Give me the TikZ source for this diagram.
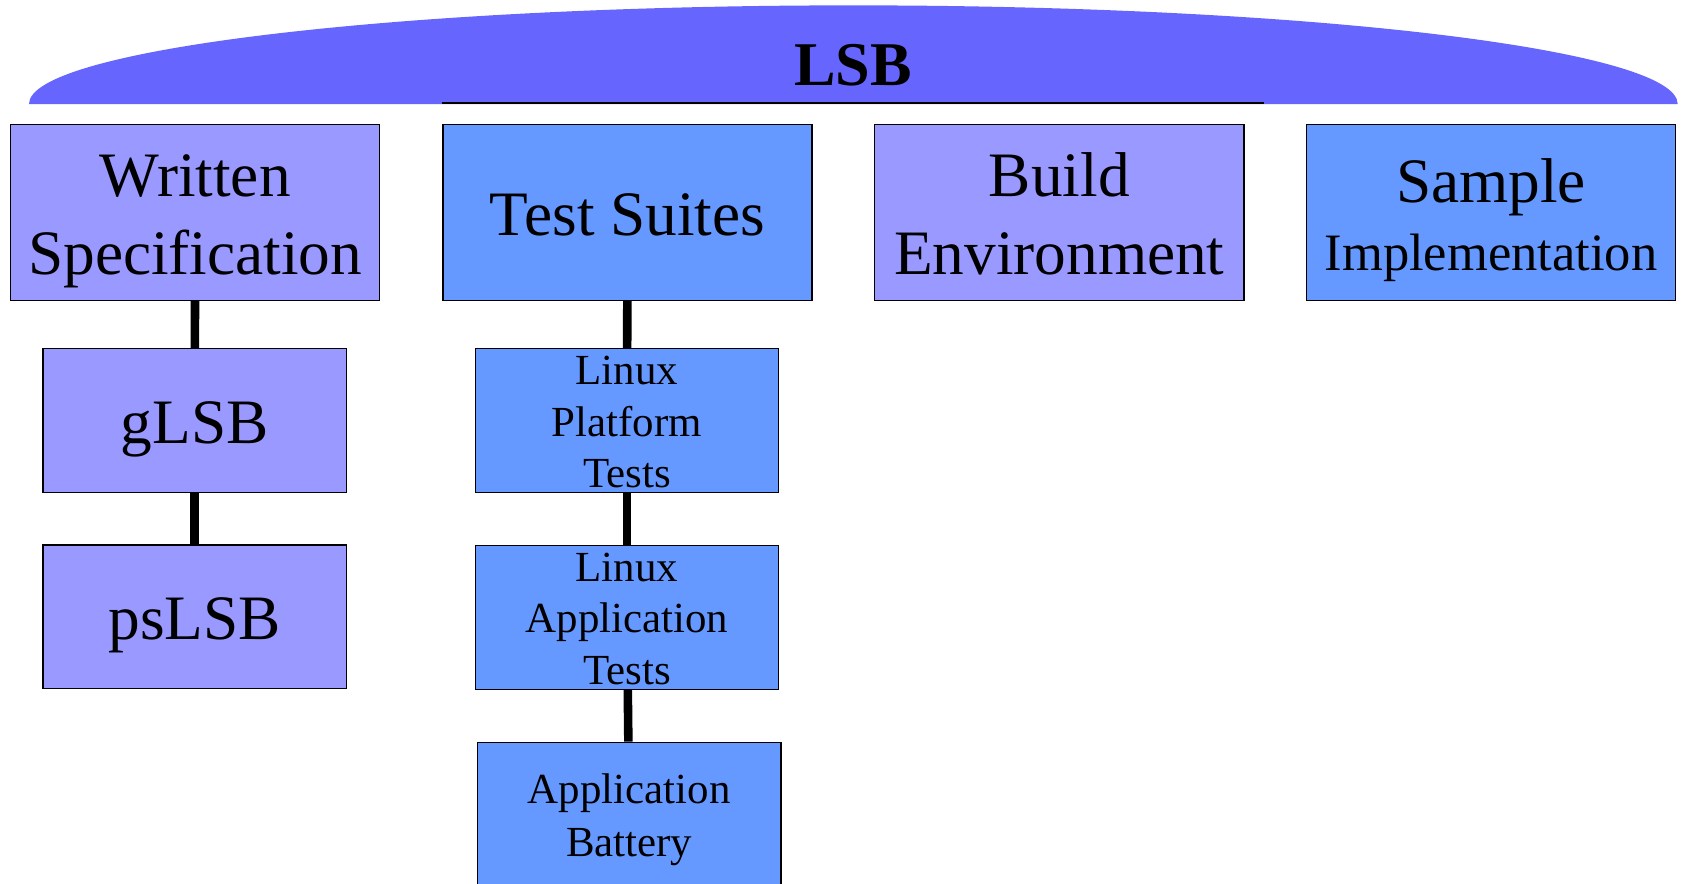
\documentclass[tikz,border=0pt]{standalone}
\usepackage{fontspec}
\setmainfont{Liberation Serif}

\definecolor{lavender}{HTML}{9999FF}
\definecolor{cornflower}{HTML}{6699FF}
\definecolor{domeblue}{HTML}{6666FF}
\newcommand{\lsbstrut}{\rule[-0.24em]{0pt}{1.206em}}

\begin{document}
\begin{tikzpicture}[x=1pt,y=-1pt,
	bigfont/.style={font=\fontsize{59}{71}\selectfont},
	smallfont/.style={font=\fontsize{40}{48}\selectfont},
	topbox/.style={minimum width=344pt,minimum height=164pt,bigfont},
	subbox/.style={minimum width=283pt,minimum height=134pt},
	testbox/.style={subbox,smallfont,inner ysep=-6pt}]
	\useasboundingbox (0,0) rectangle (1568,824);

	% umbrella over the four parts
	\fill[domeblue] (27,97) arc[start angle=180,end angle=360,x radius=768.5,y radius=92] -- cycle;
	\draw[line width=2pt] (412,96) -- (1178,96);
	\node[font=\fontsize{58}{70}\selectfont\bfseries] (lsb) at (795,61) {LSB};

	\begin{scope}[every node/.style={rectangle,draw,line width=1.3pt,inner sep=0pt,align=center}]
		\node[topbox,fill=lavender] (spec) at (182,198) {\lsbstrut Written\\Specification\lsbstrut};
		\node[topbox,fill=cornflower] (suites) at (585,198) {\lsbstrut Test Suites\lsbstrut};
		\node[topbox,fill=lavender] (build) at (987.5,198) {\lsbstrut Build\\Environment\lsbstrut};
		\node[topbox,fill=cornflower] (sample) at (1390,198)
			{\lsbstrut Sample\\[-8pt]{\fontsize{49}{59}\selectfont Implementation\lsbstrut}};

		\node[subbox,bigfont,fill=lavender] (glsb) at (181.5,392) {\lsbstrut gLSB\lsbstrut};
		\node[subbox,bigfont,fill=lavender] (pslsb) at (181.5,575) {\lsbstrut psLSB\lsbstrut};

		\node[testbox,fill=cornflower] (platform) at (584.5,392) {\lsbstrut Linux\\Platform\\Tests\lsbstrut};
		\node[testbox,fill=cornflower] (apptests) at (584.5,575.5) {\lsbstrut Linux\\Application\\Tests\lsbstrut};
		\node[testbox,fill=cornflower] (battery) at (586.5,759) {\lsbstrut Application\\Battery\lsbstrut};
	\end{scope}

	\begin{scope}[every edge/.style={draw=black,line width=8pt}]
		\path (spec) edge (glsb);
		\path (glsb) edge (pslsb);

		\path (suites) edge (platform);
		\path (platform) edge (apptests);
		\path (apptests) edge (battery);
	\end{scope}
\end{tikzpicture}
\end{document}
